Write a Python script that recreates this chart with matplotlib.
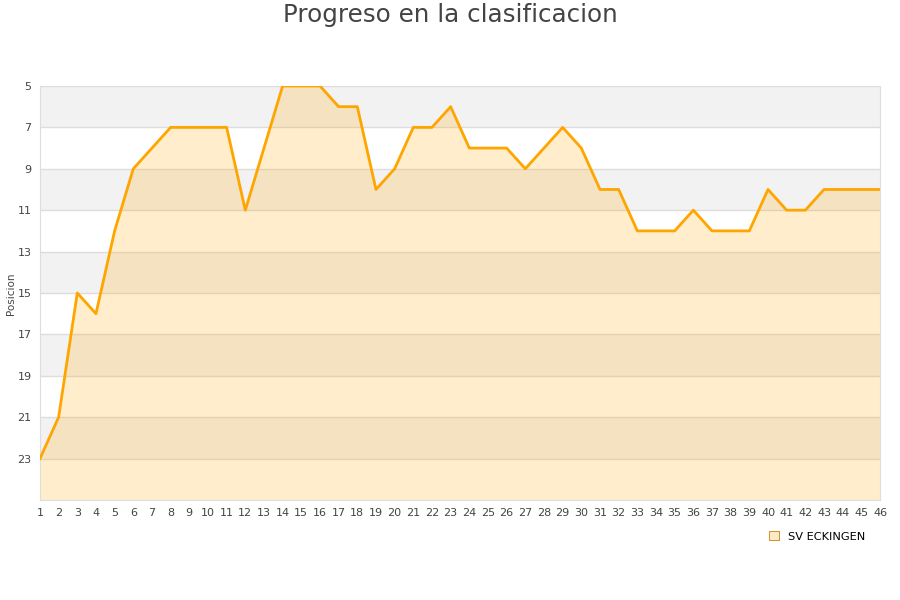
import matplotlib
matplotlib.use("Agg")
import matplotlib.pyplot as plt
from matplotlib.patches import Patch

jornadas = list(range(1, 47))
posiciones = [23, 21, 15, 16, 12, 9, 8, 7, 7, 7, 7, 11, 8, 5, 5, 5, 6, 6, 10, 9,
              7, 7, 6, 8, 8, 8, 9, 8, 7, 8, 10, 10, 12, 12, 12, 11, 12, 12, 12, 10,
              11, 11, 10, 10, 10, 10]
y_ticks = [5, 7, 9, 11, 13, 15, 17, 19, 21, 23]
equipo = "SV ECKINGEN"
titulo = "Progreso en la clasificacion"

fig = plt.figure(figsize=(9, 6), dpi=100)
ax = fig.add_axes([0.0444, 0.1667, 0.9334, 0.69])

ymin, ymax = 5, 25
for i, t in enumerate(range(5, 25, 2)):
    if i % 2 == 0:
        ax.axhspan(t, t + 2, color="#f2f2f2", zorder=0, lw=0)

ax.fill_between(jornadas, posiciones, ymax, color="#FFA500", alpha=0.2, lw=0, zorder=1)
ax.plot(jornadas, posiciones, color="#FFA500", lw=2.0, zorder=3)

ax.set_xlim(1, 46)
ax.set_ylim(ymax, ymin)
ax.set_yticks(y_ticks)
ax.set_xticks(jornadas)
ax.tick_params(axis="both", length=0, labelsize=8, colors="#444444", pad=6)
ax.grid(axis="y", color="#dddddd", lw=1, zorder=0.5)
ax.set_axisbelow(True)
for s in ["left", "bottom", "right"]:
    ax.spines[s].set_color("#dddddd")
ax.spines["top"].set_visible(False)

fig.text(0.012, 0.51, "Posicion", rotation=90, fontsize=7.5, color="#444444",
         ha="center", va="center")

fig.suptitle(titulo, x=0.5, y=0.995, fontsize=17.7, color="#444444", va="top")

handle = Patch(facecolor="#FFE9C4", edgecolor="#B8860B", lw=0.6)
fig.legend([handle], [equipo], loc="center", bbox_to_anchor=(0.908, 0.106),
           frameon=False, fontsize=8.2, handlelength=0.8, handleheight=0.8,
           handletextpad=0.8)

fig.savefig("out.png", dpi=100)
